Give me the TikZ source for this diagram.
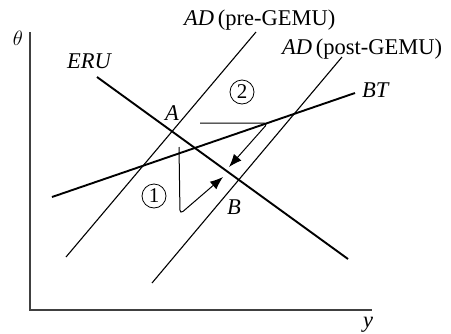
\documentclass[tikz,border=0pt]{standalone}
\usepackage{fontspec}
\setmainfont{Liberation Serif}
\usetikzlibrary{arrows.meta}
\begin{document}
\begin{tikzpicture}[x=1pt,y=-1pt,
  lbl/.style={inner sep=0pt,font=\fontsize{22.5}{26}\selectfont},
  axis/.style={line width=1.5pt,draw=black!75},
  thick curve/.style={line width=1.9pt},
  thin curve/.style={line width=1.1pt},
  movepath/.style={line width=1pt,rounded corners=4pt,-{Latex[length=13pt,width=10pt]}},
  circnum/.style={draw,circle,line width=0.8pt,minimum size=24pt,inner sep=0pt,font=\fontsize{21}{24}\selectfont}]
\useasboundingbox (0,0) rectangle (451,333);
% axes
\coordinate (O) at (30,310);
\coordinate (ytop) at (30,32);
\coordinate (xend) at (372,310);
\draw[axis] (ytop) -- (O) -- (xend);
\node[lbl,anchor=base] (theta) at (18,45) {$\theta$};
\node[lbl,anchor=base] (ylab) at (368,327) {\textit{y}};
% curves
\coordinate (eru1) at (97,77);
\coordinate (eru2) at (348,259);
\draw[thick curve] (eru1) -- (eru2);
\coordinate (bt1) at (52,197);
\coordinate (bt2) at (355,93);
\draw[thick curve] (bt1) -- (bt2);
\coordinate (adpre1) at (66,257);
\coordinate (adpre2) at (256,32);
\draw[thin curve] (adpre1) -- (adpre2);
\coordinate (adpost1) at (152,283);
\coordinate (adpost2) at (342,57);
\draw[thin curve] (adpost1) -- (adpost2);
% labels
\node[lbl,anchor=base west] (adprelab) at (184,25) {\textit{AD}\,(pre-GEMU)};
\node[lbl,anchor=base west] (adpostlab) at (282,54) {\textit{AD}\,(post-GEMU)};
\node[lbl,anchor=base west] (erulab) at (67,68) {\textit{ERU}};
\node[lbl,anchor=base west] (btlab) at (362,97) {\textit{BT}};
\node[lbl,anchor=base] (Alab) at (172,120) {\textit{A}};
\node[lbl,anchor=base] (Blab) at (234,214) {\textit{B}};
% circled numbers
\node[circnum] (n1) at (154,196) {1};
\node[circnum] (n2) at (242,92) {2};
% adjustment paths
\coordinate (p1s) at (179,147);
\coordinate (p1c) at (180,214);
\coordinate (p1e) at (223,177);
\draw[movepath] (p1s) -- (p1c) -- (p1e);
\coordinate (p2s) at (200,123);
\coordinate (p2c) at (268,123);
\coordinate (p2e) at (229,167);
\draw[movepath] (p2s) -- (p2c) -- (p2e);
\end{tikzpicture}
\end{document}
